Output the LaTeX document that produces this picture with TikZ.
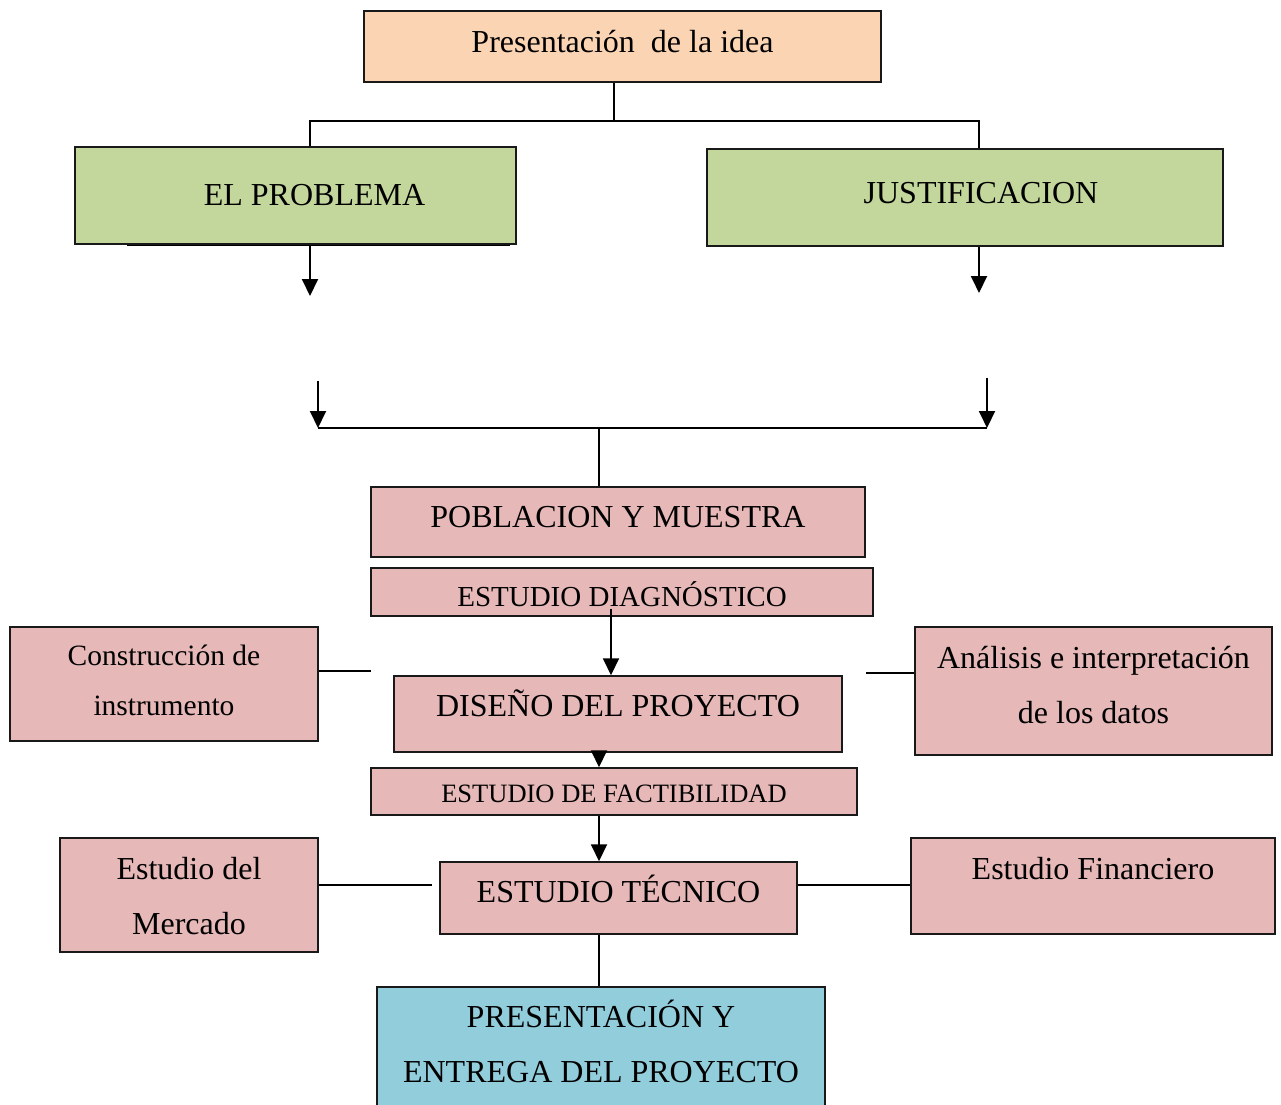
\documentclass[tikz,border=0pt]{standalone}
\usepackage{fontspec}
\setmainfont{Liberation Serif}
\usetikzlibrary{arrows.meta}
\definecolor{peach}{HTML}{FBD4B4}
\definecolor{olivebox}{HTML}{C3D69B}
\definecolor{rosebox}{HTML}{E6B8B7}
\definecolor{skybox}{HTML}{92CDDC}
\begin{document}
\begin{tikzpicture}[x=1pt,y=-1pt,
  box/.style={draw=black!90, line width=1.5pt, inner sep=0pt},
  big/.style={font=\fontsize{32}{38}\selectfont},
  bigtwo/.style={font=\fontsize{32}{55}\selectfont},
  conn/.style={line width=1.9pt},
  arr/.style={conn, -{Triangle[length=17pt,width=16pt]}}]
\useasboundingbox (0,0) rectangle (1281,1104);
\clip (0,0) rectangle (1281,1104);
\fill[white] (0,0) rectangle (1281,1104);

% boxes
\node[box, fill=peach, big, minimum width=517pt, minimum height=71pt,
  text height=22pt, text depth=11pt] (idea) at (622.5,46.5) {Presentación~ de la idea};
\node[box, fill=olivebox, big, minimum width=441pt, minimum height=97pt,
  text height=22pt, text depth=3pt] (prob) at (295.5,195.5) {\hspace*{38pt}EL PROBLEMA};
\node[box, fill=olivebox, big, minimum width=516pt, minimum height=97pt,
  text height=22pt, text depth=11pt] (just) at (965,197.5) {\hspace*{32pt}JUSTIFICACION};
\draw[line width=1.6pt] (127,245.3) -- (510,245.3);

\node[box, fill=rosebox, big, minimum width=494pt, minimum height=70pt,
  text height=22pt, text depth=11pt] (pob) at (618,522) {POBLACION Y MUESTRA};
\node[box, fill=rosebox, font=\fontsize{29}{35}\selectfont, minimum width=502pt, minimum height=48pt,
  text height=28pt, text depth=0pt] (diag) at (622,592) {ESTUDIO DIAGNÓSTICO};
\node[box, fill=rosebox, big, minimum width=448pt, minimum height=76pt,
  text height=22pt, text depth=18pt] (dis) at (618,714) {DISEÑO DEL PROYECTO};
\node[box, fill=rosebox, font=\fontsize{26.5}{32}\selectfont, minimum width=486pt, minimum height=47pt,
  text height=21pt, text depth=0pt] (fact) at (614,791.5) {ESTUDIO DE FACTIBILIDAD};
\node[box, fill=rosebox, big, minimum width=357pt, minimum height=72pt,
  text height=22pt, text depth=14pt] (tec) at (618.5,898) {ESTUDIO TÉCNICO};
\node[box, fill=skybox, bigtwo, minimum width=448pt, minimum height=126pt,
  text height=64pt, text depth=0pt] (pres) at (601,1050)
  {\begin{tabular}[b]{@{}c@{}}PRESENTACIÓN Y\\ENTREGA DEL PROYECTO\end{tabular}};

\node[box, fill=rosebox, font=\fontsize{29.5}{50}\selectfont, minimum width=308pt, minimum height=114pt,
  text height=62pt, text depth=0pt] (constr) at (164,684)
  {\begin{tabular}[b]{@{}c@{}}Construcción de\\instrumento\end{tabular}};
\node[box, fill=rosebox, bigtwo, minimum width=357pt, minimum height=128pt,
  text height=64pt, text depth=0pt] (anal) at (1093.5,691)
  {\begin{tabular}[b]{@{}c@{}}Análisis e interpretación\\de los datos\end{tabular}};
\node[box, fill=rosebox, bigtwo, minimum width=258pt, minimum height=114pt,
  text height=78pt, text depth=0pt] (merc) at (189,895)
  {\begin{tabular}[b]{@{}c@{}}Estudio del\\Mercado\end{tabular}};
\node[box, fill=rosebox, big, minimum width=364pt, minimum height=96pt,
  text height=8pt, text depth=22pt] (fin) at (1093,886) {Estudio Financiero};

% coordinates for connector joints and free ends
\coordinate (tj) at (614,121);
\coordinate (pj) at (310,121);
\coordinate (jj) at (979,121);
\coordinate (pa) at (310,296);
\coordinate (ja) at (979,293);
\coordinate (ls) at (318,381);
\coordinate (lm) at (318,428);
\coordinate (rs) at (987,378);
\coordinate (rm) at (987,428);
\coordinate (mj) at (599,428);
\coordinate (ds) at (611,609);
\coordinate (cl) at (371,671);
\coordinate (al) at (866,673);
\coordinate (ml) at (432,885);

% connectors
\draw[conn] (idea.south -| tj) -- (tj);
\draw[conn] (pj |- prob.north) -- (pj) -- (jj) -- (jj |- just.north);
\draw[arr] (pj |- prob.south) -- (pa);
\draw[arr] (jj |- just.south) -- (ja);
\draw[arr] (ls) -- (lm);
\draw[arr] (rs) -- (rm);
\draw[conn] (lm) -- (rm);
\draw[conn] (mj) -- (mj |- pob.north);
\draw[arr] (ds) -- (ds |- dis.north);
\draw[arr] (dis.south -| mj) -- (fact.north -| mj);
\draw[arr] (fact.south -| mj) -- (tec.north -| mj);
\draw[conn] (tec.south -| mj) -- (pres.north -| mj);
\draw[conn] (cl -| constr.east) -- (cl);
\draw[conn] (al) -- (al -| anal.west);
\draw[conn] (ml -| merc.east) -- (ml);
\draw[conn] (ml -| tec.east) -- (ml -| fin.west);
\end{tikzpicture}
\end{document}
